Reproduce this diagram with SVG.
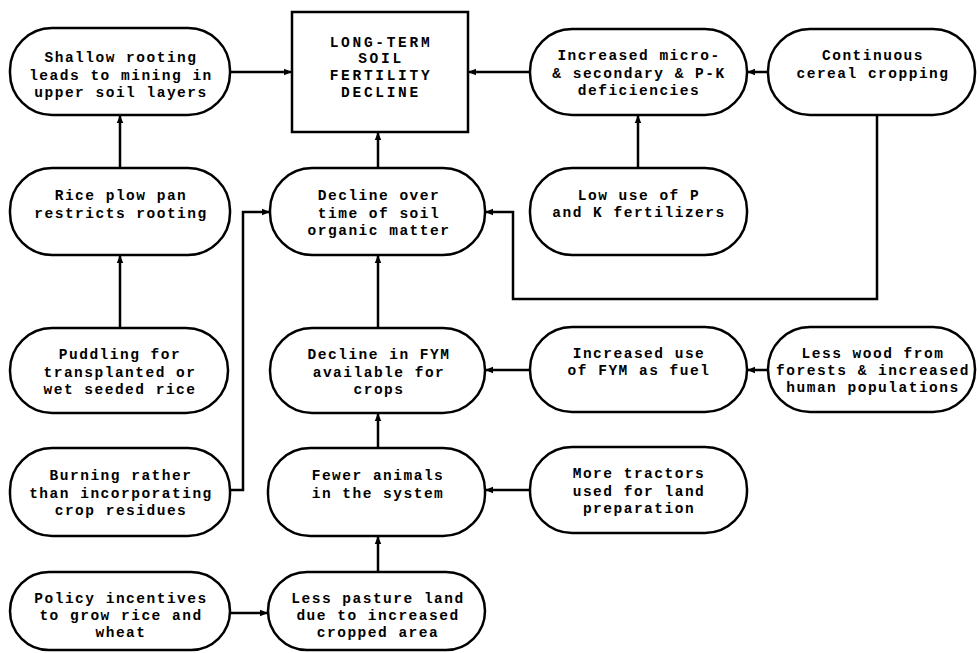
<svg xmlns="http://www.w3.org/2000/svg" width="977" height="653" viewBox="0 0 977 653">
<style>
.n{fill:#fff;stroke:#000;stroke-width:2.5}
.t{font-family:"Liberation Mono","DejaVu Sans Mono",monospace;font-weight:bold;font-size:14.5px;letter-spacing:1.5px;text-anchor:middle;fill:#000}
.b{font-family:"Liberation Mono","DejaVu Sans Mono",monospace;font-weight:bold;font-size:14.5px;text-anchor:middle;fill:#000;letter-spacing:2.7px}
.c{fill:none;stroke:#000;stroke-width:2.5}
</style>
<defs>
<marker id="a" viewBox="0 0 10 10" refX="10" refY="5" markerWidth="3.2" markerHeight="3.2" orient="auto" markerUnits="strokeWidth">
<path d="M0,1 L10,5 L0,9 z" fill="#000"/>
</marker>
</defs>
<rect width="977" height="653" fill="#fff"/>
<g id="connectors">
<path class="c" d="M230,72 H292" marker-end="url(#a)"/>
<path class="c" d="M530,72 H468" marker-end="url(#a)"/>
<path class="c" d="M768,72 H747" marker-end="url(#a)"/>
<path class="c" d="M120,168 V115" marker-end="url(#a)"/>
<path class="c" d="M378,168 V132" marker-end="url(#a)"/>
<path class="c" d="M638,168 V115" marker-end="url(#a)"/>
<path class="c" d="M877,115 V299 H513 V212 H485" marker-end="url(#a)"/>
<path class="c" d="M120,328 V255" marker-end="url(#a)"/>
<path class="c" d="M378,328 V255" marker-end="url(#a)"/>
<path class="c" d="M530,370 H485" marker-end="url(#a)"/>
<path class="c" d="M768,370 H747" marker-end="url(#a)"/>
<path class="c" d="M378,448 V413" marker-end="url(#a)"/>
<path class="c" d="M230,490 H243 V212 H270" marker-end="url(#a)"/>
<path class="c" d="M530,490 H485" marker-end="url(#a)"/>
<path class="c" d="M378,572 V536" marker-end="url(#a)"/>
<path class="c" d="M230,613 H268" marker-end="url(#a)"/>
</g>
<g id="box">
<rect class="n" x="292" y="12" width="176" height="120"/>
<text class="b" x="381" y="47">LONG-TERM</text>
<text class="b" x="381" y="63">SOIL</text>
<text class="b" x="381" y="80">FERTILITY</text>
<text class="b" x="381" y="97">DECLINE</text>
</g>
<g id="shallow">
<rect class="n" x="10" y="28" width="220" height="87" rx="42"/>
<text class="t" x="121" y="62">Shallow rooting</text>
<text class="t" x="121" y="80">leads to mining in</text>
<text class="t" x="121" y="97">upper soil layers</text>
</g>
<g id="micro">
<rect class="n" x="530" y="29" width="217" height="86" rx="42"/>
<text class="t" x="639" y="60">Increased micro-</text>
<text class="t" x="639" y="78">&amp; secondary &amp; P-K</text>
<text class="t" x="639" y="95">deficiencies</text>
</g>
<g id="continuous">
<rect class="n" x="768" y="29" width="207" height="86" rx="42"/>
<text class="t" x="873" y="60">Continuous</text>
<text class="t" x="873" y="78">cereal cropping</text>
</g>
<g id="rice">
<rect class="n" x="10" y="168" width="220" height="87" rx="42"/>
<text class="t" x="121" y="200">Rice plow pan</text>
<text class="t" x="121" y="218">restricts rooting</text>
</g>
<g id="som">
<rect class="n" x="270" y="168" width="215" height="87" rx="42"/>
<text class="t" x="379" y="200">Decline over</text>
<text class="t" x="379" y="218">time of soil</text>
<text class="t" x="379" y="235">organic matter</text>
</g>
<g id="lowuse">
<rect class="n" x="530" y="168" width="217" height="87" rx="42"/>
<text class="t" x="639" y="200">Low use of P</text>
<text class="t" x="639" y="217">and K fertilizers</text>
</g>
<g id="puddling">
<rect class="n" x="10" y="328" width="218" height="85" rx="42"/>
<text class="t" x="120" y="359">Puddling for</text>
<text class="t" x="120" y="377">transplanted or</text>
<text class="t" x="120" y="394">wet seeded rice</text>
</g>
<g id="fym">
<rect class="n" x="270" y="328" width="215" height="85" rx="42"/>
<text class="t" x="379" y="359">Decline in FYM</text>
<text class="t" x="379" y="377">available for</text>
<text class="t" x="379" y="394">crops</text>
</g>
<g id="fuel">
<rect class="n" x="530" y="327" width="217" height="85" rx="42"/>
<text class="t" x="639" y="358">Increased use</text>
<text class="t" x="639" y="375">of FYM as fuel</text>
</g>
<g id="wood">
<rect class="n" x="768" y="327" width="207" height="85" rx="42"/>
<text class="t" x="873" y="358">Less wood from</text>
<text class="t" x="873" y="375">forests &amp; increased</text>
<text class="t" x="873" y="392">human populations</text>
</g>
<g id="burning">
<rect class="n" x="10" y="448" width="220" height="88" rx="42"/>
<text class="t" x="121" y="480">Burning rather</text>
<text class="t" x="121" y="498">than incorporating</text>
<text class="t" x="121" y="515">crop residues</text>
</g>
<g id="animals">
<rect class="n" x="268" y="448" width="217" height="88" rx="42"/>
<text class="t" x="378" y="480">Fewer animals</text>
<text class="t" x="378" y="498">in the system</text>
</g>
<g id="tractors">
<rect class="n" x="530" y="447" width="217" height="86" rx="42"/>
<text class="t" x="639" y="478">More tractors</text>
<text class="t" x="639" y="496">used for land</text>
<text class="t" x="639" y="513">preparation</text>
</g>
<g id="policy">
<rect class="n" x="10" y="572" width="220" height="78" rx="39"/>
<text class="t" x="121" y="603">Policy incentives</text>
<text class="t" x="121" y="620">to grow rice and</text>
<text class="t" x="121" y="637">wheat</text>
</g>
<g id="pasture">
<rect class="n" x="268" y="572" width="217" height="78" rx="39"/>
<text class="t" x="378" y="603">Less pasture land</text>
<text class="t" x="378" y="620">due to increased</text>
<text class="t" x="378" y="637">cropped area</text>
</g>
</svg>
